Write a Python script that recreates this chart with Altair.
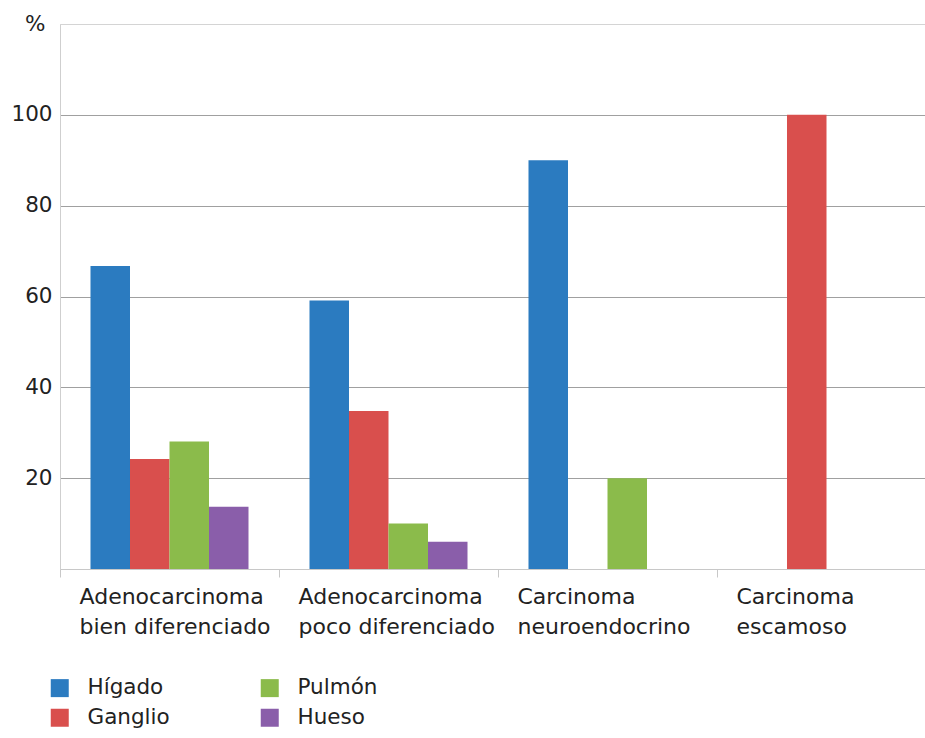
import altair as alt
import pandas as pd

# Tumour types (line break marked with "|") and metastasis site percentages
tipos = [
    "Adenocarcinoma|bien diferenciado",
    "Adenocarcinoma|poco diferenciado",
    "Carcinoma|neuroendocrino",
    "Carcinoma|escamoso",
]
organos = ["Hígado", "Ganglio", "Pulmón", "Hueso"]
higado = [66.7, 59.1, 90.0, 0.0]
ganglio = [24.2, 34.8, 0.0, 100.0]
pulmon = [28.1, 10.0, 20.0, 0.0]
hueso = [13.7, 6.0, 0.0, 0.0]

colores = ["#2b7bc0", "#d94f4d", "#8bbb4b", "#8a5eaa"]
y_ticks = [0, 20, 40, 60, 80, 100, 120]

series = {"Hígado": higado, "Ganglio": ganglio, "Pulmón": pulmon, "Hueso": hueso}
rows = []
for org in organos:
    for t, v in zip(tipos, series[org]):
        rows.append({"tipo": t, "organo": org, "pct": v})
df = pd.DataFrame(rows)

FONT = "DejaVu Sans"
TXT = "#222222"

chart = (
    alt.Chart(df)
    .mark_bar(strokeWidth=0)
    .encode(
        x=alt.X(
            "tipo:N",
            sort=tipos,
            scale=alt.Scale(range=[0, 876], paddingInner=0, paddingOuter=0),
            axis=alt.Axis(
                title=None,
                bandPosition=0,
                labelAngle=0,
                labelAlign="left",
                labelBaseline="top",
                labelOffset=-90,
                labelPadding=9,
                labelLineHeight=30,
                labelExpr="split(datum.label, '|')",
                labelFont=FONT,
                labelFontSize=22,
                labelColor=TXT,
                labelLimit=0,
                tickSize=8,
                tickColor="#c8c8c8",
                domainColor="#c8c8c8",
                grid=False,
            ),
        ),
        xOffset=alt.XOffset(
            "organo:N",
            sort=organos,
            scale=alt.Scale(paddingInner=0, paddingOuter=0.772),
        ),
        y=alt.Y(
            "pct:Q",
            scale=alt.Scale(domain=[0, 120], nice=False),
            axis=alt.Axis(
                title=None,
                values=y_ticks,
                labelExpr="datum.value == 120 ? '%' : (datum.value == 0 ? '' : datum.label)",
                labelFont=FONT,
                labelFontSize=21.5,
                labelColor=TXT,
                labelPadding={"condition": {"test": "datum.value == 120", "value": 15}, "value": 8},
                ticks=False,
                domainColor="#cfcfcf",
                gridColor={
                    "condition": {"test": "datum.value == 120 || datum.value == 0", "value": "#d4d4d4"},
                    "value": "#a0a0a0",
                },
            ),
        ),
        color=alt.Color(
            "organo:N",
            scale=alt.Scale(domain=organos, range=colores),
            legend=alt.Legend(
                title=None,
                orient="none",
                legendX=-11,
                legendY=653,
                columns=2,
                symbolType="square",
                symbolSize=324,
                symbolStrokeWidth=0,
                symbolOpacity=1,
                labelFont=FONT,
                labelFontSize=21.5,
                labelColor=TXT,
                labelOffset=17,
                columnPadding=89,
                rowPadding=7,
                padding=0,
            ),
        ),
    )
    .properties(
        width=865,
        height=545,
        autosize=alt.AutoSizeParams(type="none"),
        padding={"left": 60, "top": 24, "right": 0, "bottom": 169},
    )
    .configure_view(stroke=None)
    .configure(font=FONT, background="white")
)

chart.save("out.html", embed_options={"renderer": "svg", "actions": False})
